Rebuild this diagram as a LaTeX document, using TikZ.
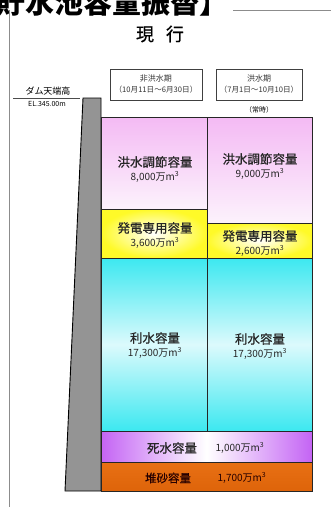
\documentclass[tikz,border=0pt]{standalone}
\usepackage{fontspec}
\newfontfamily\jp{Noto Sans CJK JP}
\newfontfamily\jpm[FakeBold=0.6]{Noto Sans CJK JP}
\begin{document}
\begin{tikzpicture}[x=1pt,y=-1pt,
  lbl/.style={font=\jpm\fontsize{12.5}{15}\selectfont, text=black!85, align=center, inner sep=0pt},
  num/.style={font=\jp\fontsize{10}{12}\selectfont, text=black!85, inner sep=0pt},
  per/.style={draw=black!75, line width=0.7pt, fill=white},
  perl/.style={font=\jp\fontsize{8}{11}\selectfont, text=black!80, align=center, inner sep=0pt},
  cell/.style={draw=black!85, line width=1pt}]
\clip (0,0) rectangle (331,507);
\fill[white] (0,0) rectangle (331,507);
% title (cut at top, as in the reference)
\node[anchor=west, font=\jp\bfseries\fontsize{29}{30}\selectfont, inner sep=0pt] (title) at (-4,3) {貯水池容量振替】};
\draw[black!45, line width=1pt] (233,10) -- (331,10);
\draw[black!45, line width=1pt] (9,10) -- (9,507);
% heading
\node[font=\jpm\fontsize{18}{20}\selectfont, inner sep=0pt] (cur) at (160,34) {現\hspace{12pt}行};
% period boxes
\draw[per] (110,69) rectangle (202,100);
\node[perl] (p1) at (156,84.5) {非洪水期\\{\fontsize{7.6}{10}\selectfont （10月11日～6月30日）}};
\draw[per] (216,69) rectangle (302,100);
\node[perl] (p2) at (259,84.5) {洪水期\\{\fontsize{7.6}{10}\selectfont （7月1日～10月10日）}};
% dam crest
\node[font=\jp\fontsize{9}{10}\selectfont, inner sep=0pt] (crest) at (48,91) {ダム天端高};
\draw[black!70, line width=0.6pt] (13,98) -- (80,98);
\node[font=\jp\fontsize{7}{8}\selectfont, inner sep=0pt] (el) at (47,104) {EL.345.00m};
\node[font=\jp\fontsize{7}{8}\selectfont, inner sep=0pt] (jo) at (259,110) {（常時）};
% dam body
\draw[fill=black!42, draw=black, line width=0.9pt] (83,98) -- (101,98) -- (101,491) -- (65,491) -- cycle;
% left column
\path[cell, top color={rgb,255:red,244;green,186;blue,244}, bottom color={rgb,255:red,252;green,242;blue,252}] (101,117) rectangle (207,209);
\path[cell, inner color=white, outer color={rgb,255:red,255;green,250;blue,40}] (101,209) rectangle (207,258);
\path[cell, shading=axis, top color={rgb,255:red,60;green,232;blue,240}, bottom color={rgb,255:red,60;green,232;blue,240}, middle color={rgb,255:red,220;green,250;blue,252}] (101,258) rectangle (207,431);
% right column
\path[cell, top color={rgb,255:red,244;green,186;blue,244}, bottom color={rgb,255:red,252;green,242;blue,252}] (207,117) rectangle (312,223);
\path[cell, inner color=white, outer color={rgb,255:red,255;green,250;blue,40}] (207,223) rectangle (312,258);
\path[cell, shading=axis, top color={rgb,255:red,60;green,232;blue,240}, bottom color={rgb,255:red,60;green,232;blue,240}, middle color={rgb,255:red,220;green,250;blue,252}] (207,258) rectangle (312,431);
% bottom rows
\path[cell, left color={rgb,255:red,196;green,100;blue,244}, right color={rgb,255:red,196;green,100;blue,244}, middle color=white] (101,431) rectangle (312,462);
\path[cell, top color={rgb,255:red,232;green,112;blue,20}, bottom color={rgb,255:red,222;green,100;blue,10}] (101,462) rectangle (312,491);
% labels
\node[lbl] (a1) at (155,162) {洪水調節容量};
\node[num] (a2) at (155,177) {8,000万m\textsuperscript{3}};
\node[lbl] (b1) at (260,159) {洪水調節容量};
\node[num] (b2) at (260,174) {9,000万m\textsuperscript{3}};
\node[lbl] (c1) at (155,228) {発電専用容量};
\node[num] (c2) at (155,243) {3,600万m\textsuperscript{3}};
\node[lbl] (d1) at (260,236) {発電専用容量};
\node[num] (d2) at (260,251) {2,600万m\textsuperscript{3}};
\node[lbl] (e1) at (155,338) {利水容量};
\node[num] (e2) at (155,353) {17,300万m\textsuperscript{3}};
\node[lbl] (f1) at (260,339) {利水容量};
\node[num] (f2) at (260,354) {17,300万m\textsuperscript{3}};
\node[lbl] (g1) at (172,448) {死水容量};
\node[num] (g2) at (240,448) {1,000万m\textsuperscript{3}};
\node[lbl, font=\jpm\fontsize{11.5}{13}\selectfont, text=black!75!red!60!black] (h1) at (168,478) {堆砂容量};
\node[num, text=black!75!red!60!black] (h2) at (242,478) {1,700万m\textsuperscript{3}};
\end{tikzpicture}
\end{document}
